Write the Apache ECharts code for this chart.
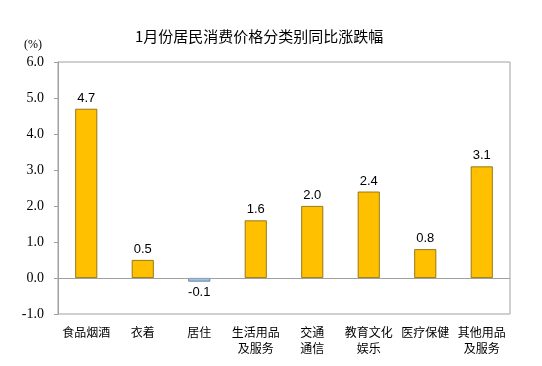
<!DOCTYPE html>
<html><head><meta charset="utf-8">
<script src="https://cdn.jsdelivr.net/npm/echarts@6/dist/echarts.min.js"></script>
<style>html,body{margin:0;padding:0;background:#fff}#c{width:542px;height:366px}</style>
</head><body><div id="c"></div>
<script>
const categories = ['食品烟酒','衣着','居住','生活用品\n及服务','交通\n通信','教育文化\n娱乐','医疗保健','其他用品\n及服务'];
const values = [4.7, 0.5, -0.1, 1.6, 2.0, 2.4, 0.8, 3.1];
const titleText = '1月份居民消费价格分类别同比涨跌幅';
const unitText = '(%)';

const chart = echarts.init(document.getElementById('c'));
chart.setOption({
  backgroundColor: '#fff',
  animation: false,
  title: {
    text: titleText, left: 130, top: 24,
    textStyle: {fontFamily: 'Noto Sans CJK SC', fontSize: 15, fontWeight: 'normal', color: '#000'}
  },
  graphic: [{
    type: 'text', left: 24, top: 39,
    style: {text: unitText, font: '12px "Liberation Serif", "Times New Roman", serif', fill: '#000'}
  }],
  grid: {left: 58, right: 32, top: 62, bottom: 52, show: true, borderColor: '#a0a0a0', borderWidth: 1},
  xAxis: {
    type: 'category', data: categories,
    axisLine: {show: false, onZero: false},
    axisTick: {show: false},
    axisLabel: {margin: 10, color: '#000', fontSize: 12, lineHeight: 16, fontFamily: 'Noto Sans CJK SC', interval: 0}
  },
  yAxis: {
    type: 'value', min: -1, max: 6, interval: 1,
    axisLine: {show: true, lineStyle: {color: '#a0a0a0'}},
    axisTick: {show: true, length: 4, lineStyle: {color: '#a0a0a0'}},
    splitLine: {show: false},
    axisLabel: {margin: 14, color: '#000', fontSize: 14, fontFamily: 'serif', formatter: v => v.toFixed(1)}
  },
  series: [{
    type: 'bar', barWidth: 22,
    data: values.map(v => ({
      value: v,
      itemStyle: v < 0 ? {color: '#9DC3E6', borderColor: '#41719C', borderWidth: 0.8}
                       : {color: '#FFC000', borderColor: '#7F6000', borderWidth: 0.8},
      label: v < 0 ? {position: 'bottom'} : {position: 'top'}
    })),
    label: {
      show: true, distance: 4, color: '#000', fontSize: 13, fontFamily: 'Liberation Sans',
      formatter: p => p.value.toFixed(1)
    },
    markLine: {
      silent: true, symbol: 'none', label: {show: false},
      lineStyle: {color: '#a0a0a0', type: 'solid', width: 1},
      data: [{yAxis: 0}]
    }
  }]
});
</script></body></html>
